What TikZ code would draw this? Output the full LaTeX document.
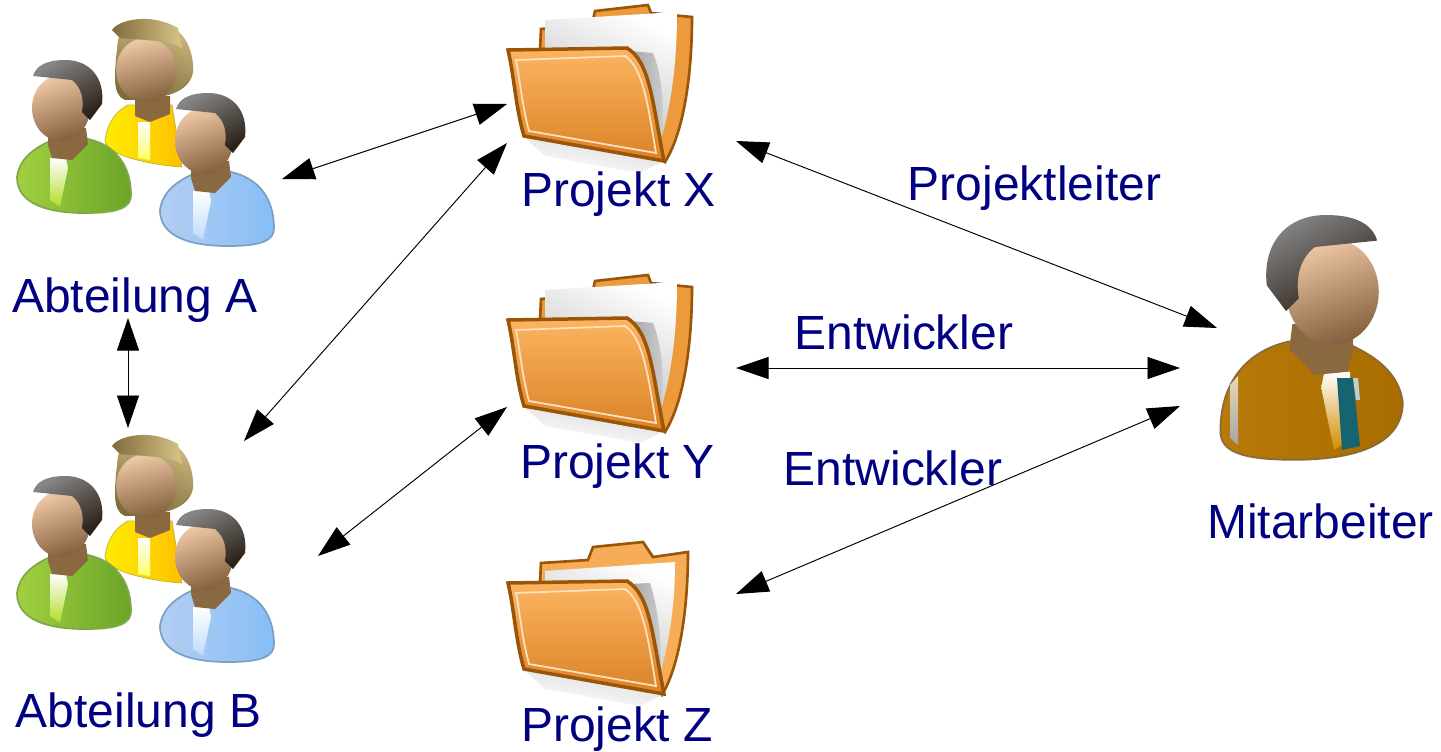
\documentclass[tikz,border=0pt]{standalone}
\usepackage{fontspec}
\setmainfont{Liberation Sans}
\usetikzlibrary{arrows.meta}

\definecolor{labelblue}{HTML}{000080}
\definecolor{skinlight}{HTML}{EFC8A6}
\definecolor{skinmid}{HTML}{C9A077}
\definecolor{skindark}{HTML}{85603E}
\definecolor{neckbrown}{HTML}{8A6840}
\definecolor{hairgrey}{HTML}{858585}
\definecolor{hairdark}{HTML}{2A2018}
\definecolor{blondelight}{HTML}{D8C488}
\definecolor{blondedark}{HTML}{7E6C3C}
\definecolor{folderedge}{HTML}{9A5508}
\definecolor{foldertop}{HTML}{FCB560}
\definecolor{folderlow}{HTML}{DB8226}
\definecolor{foldersliver}{HTML}{EC9A3C}
\definecolor{greenA}{HTML}{A2D040}
\definecolor{greenB}{HTML}{B2DC28}
\definecolor{greenC}{HTML}{6BA428}
\definecolor{greenE}{HTML}{7FA84A}
\definecolor{blueA}{HTML}{B4CEF2}
\definecolor{blueB}{HTML}{BCDCFA}
\definecolor{blueC}{HTML}{86BEF6}
\definecolor{blueE}{HTML}{7BA0C4}
\definecolor{ochreA}{HTML}{B87A08}
\definecolor{ochreB}{HTML}{D08C00}
\definecolor{ochreC}{HTML}{A86C00}
\definecolor{ochreE}{HTML}{8A6A3A}
\definecolor{tieteal}{HTML}{15646F}

\tikzset{
  link/.style={<->,line width=0.55pt,>={Triangle[length=18.5pt,width=12.5pt]}},
  % body colours: light, middle, dark, edge
  pics/person/.style n args={4}{code={
    \path[draw=#4,line width=1pt,left color=#1,middle color=#2,right color=#3]
      (17,177) .. controls (20,155) and (40,146) .. (50,141) -- (88,139)
      .. controls (115,145) and (131,165) .. (131,195)
      .. controls (131,207) and (120,213) .. (85,213)
      .. controls (50,213) and (17,205) .. (17,177) -- cycle;
    \path[top color=white,bottom color=#2] (50,158) -- (66,158) -- (68,168) -- (60,207) -- (50,200) -- cycle;
    \fill[neckbrown] (48,128) -- (86,128) -- (88,144) -- (72,160) -- (52,158) -- (48,145) -- cycle;
    \path[top color=skinlight,middle color=skinmid,bottom color=skindark,shading angle=20]
      (61,108) ellipse (29 and 33);
    \path[top color=hairgrey,bottom color=hairdark,shading angle=30]
      (33,76) .. controls (36,66) and (46,60) .. (65,60)
      .. controls (90,60) and (105,78) .. (102,104)
      -- (90,120) -- (82,112) .. controls (84,100) and (82,88) .. (72,80) -- cycle;
  }},
  pics/woman/.style={code={
    \path[top color=blondelight,bottom color=blondedark,shading angle=-20]
      (125,25) .. controls (160,10) and (195,30) .. (193,72)
      .. controls (190,92) and (165,100) .. (125,100)
      .. controls (112,95) and (114,75) .. (118,40) -- cycle;
    \path[draw=black!30!yellow,left color=yellow!85!orange,middle color=yellow!95!white,right color=orange!50!yellow]
      (105,140) .. controls (108,120) and (118,110) .. (128,105) -- (172,105)
      -- (182,167) .. controls (150,165) and (105,155) .. (105,140) -- cycle;
    \path[top color=white,bottom color=yellow!60] (138,122) -- (150,122) -- (150,160) -- (138,158) -- cycle;
    \fill[neckbrown] (135,96) -- (170,96) -- (170,114) -- (150,122) -- (135,116) -- cycle;
    \path[top color=skinlight,middle color=skinmid,bottom color=skindark,shading angle=15]
      (146,70) ellipse (30 and 32);
    \path[left color=blondedark,right color=blondelight]
      (112,30) .. controls (118,20) and (150,12) .. (178,28)
      -- (182,48) .. controls (170,40) and (140,40) .. (120,38) -- cycle;
  }},
  pics/folderback/.style={code={
    \fill[foldersliver,draw=folderedge,line width=1.5pt]
      (540,50) -- (541,29) -- (592,24) -- (595,11) -- (648,5) -- (651,13) -- (692,17)
      .. controls (692,70) and (685,130) .. (665,162) -- cycle;
  }},
  pics/folderlow/.style={code={
    \fill[foldertop!85!folderlow,draw=folderedge,line width=1.5pt]
      (540,50) -- (541,30) -- (588,27) -- (593,14) -- (643,9) -- (653,24) -- (688,19)
      .. controls (688,70) and (681,130) .. (662,162) -- cycle;
  }},
  pics/paperhigh/.style={code={
    \path[top color=white,bottom color=gray!50,shading angle=-25]
      (545,20) -- (677,12) .. controls (677,60) and (672,100) .. (662,136)
      -- (627,50) -- (545,50) -- cycle;
    \path[left color=gray!70,right color=gray!40] (630,51) -- (653,53) .. controls (662,75) and (664,105) .. (662,135) -- cycle;
  }},
  pics/paperlow/.style={code={
    \path[top color=white,bottom color=gray!50,shading angle=-25]
      (545,38) -- (675,29) .. controls (675,70) and (670,105) .. (660,142)
      -- (627,50) -- (545,50) -- cycle;
    \path[left color=gray!70,right color=gray!40] (630,51) -- (650,50) .. controls (658,75) and (662,105) .. (660,140) -- cycle;
  }},
  pics/folderfront/.style={code={
    \path[top color=gray!30,bottom color=white,shading angle=-10]
      (523,136) -- (662,162) -- (640,173) -- (545,156) -- cycle;
    \path[draw=folderedge,line width=2pt,top color=foldertop,middle color=foldertop!75!folderlow,bottom color=folderlow]
      (508,50) -- (627,48) .. controls (650,62) and (652,100) .. (664,161)
      -- (524,136) .. controls (516,110) and (514,75) .. (508,50) -- cycle;
    \draw[foldertop!40!white,line width=1pt]
      (516,60) -- (625,56) .. controls (643,68) and (648,105) .. (656,153)
      -- (529,131) .. controls (522,105) and (520,80) .. (516,60) -- cycle;
  }}
}

\begin{document}
\begin{tikzpicture}
[x=0.02cm,y=-0.02cm,%
  every node/.style={inner sep=0pt,anchor=base,text=labelblue,font=\fontsize{27.3}{30}\selectfont}]
\useasboundingbox (0,0) rectangle (1441,751);

% departments
\foreach \dy in {0,416}{
  \begin{scope}[shift={(0,\dy)}]
    \pic {woman};
    \pic {person={greenA}{greenB}{greenC}{greenE}};
    \pic[shift={(143,33)}] {person={blueA}{blueB}{blueC}{blueE}};
  \end{scope}
}

% folders
\pic {folderback};
\pic {paperhigh};
\pic {folderfront};
\pic[shift={(0,270)}] {folderback};
\pic[shift={(0,270)}] {paperhigh};
\pic[shift={(0,270)}] {folderfront};
\pic[shift={(0,533)}] {folderlow};
\pic[shift={(0,533)}] {paperlow};
\pic[shift={(0,533)}] {folderfront};

% employee
\pic[xscale=-1.6,yscale=1.6] at (1430,119) {person={ochreA}{ochreB}{ochreC}{ochreE}};
\fill[tieteal] (1337,378) -- (1353,378) -- (1360,446) -- (1342,450) -- cycle;
\fill[white!70!tieteal] (1353,378) -- (1358,378) -- (1360,400) -- (1356,400) -- cycle;
\path[top color=white!70!ochreA,bottom color=gray!70] (1230,385) -- (1238,376) -- (1238,445) -- (1230,438) -- cycle;

% labels
\node (abtA) at (135,312) {Abteilung A};
\node (abtB) at (138.5,727) {Abteilung B};
\node (prjX) at (618.5,206) {Projekt X};
\node (prjY) at (617.5,478) {Projekt Y};
\node (prjZ) at (617,741) {Projekt Z};
\node (mitarb) at (1320.5,538) {Mitarbeiter};
\node (leiter) at (1034.5,200) {Projektleiter};
\node (entwY) at (904,349) {Entwickler};
\node (entwZ) at (893,485) {Entwickler};

% connector ends
\coordinate (aR) at (282,179);
\coordinate (aD) at (128,318);
\coordinate (bU) at (128,428);
\coordinate (bR) at (244,441);
\coordinate (bD) at (318,556);
\coordinate (xA) at (507,104);
\coordinate (xB) at (507,143);
\coordinate (xM) at (736,141);
\coordinate (yB) at (507,407);
\coordinate (yM) at (736,368);
\coordinate (zM) at (736,594);
\coordinate (mX) at (1217,328);
\coordinate (mY) at (1180,368);
\coordinate (mZ) at (1180,406);

\draw[link] (aR) -- (xA);
\draw[link] (bR) -- (xB);
\draw[link] (aD) -- (bU);
\draw[link] (bD) -- (yB);
\draw[link] (xM) -- (mX);
\draw[link] (yM) -- (mY);
\draw[link] (zM) -- (mZ);
\end{tikzpicture}
\end{document}
